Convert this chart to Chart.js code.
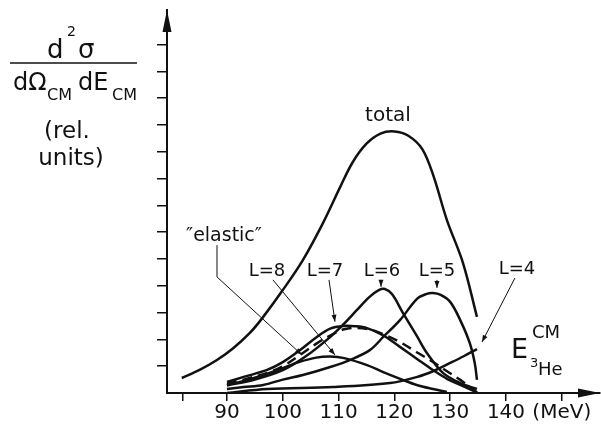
<!DOCTYPE html>
<html>
<head>
<meta charset="utf-8">
<script src="https://cdn.jsdelivr.net/npm/chart.js@4.4.0/dist/chart.umd.min.js"></script>
<style>
  html, body { margin: 0; padding: 0; background: #fff; }
  #wrap { width: 601px; height: 434px; }
</style>
</head>
<body>
<div id="wrap"><canvas id="grafico" width="601" height="434"></canvas></div>
<script>
// Energia E_CM (MeV) e secção eficaz (unid. rel.) de cada curva
const totalE = [81.9, 85, 88.2, 91, 94.1, 96.5, 100, 103.6, 107.2, 110.3, 112.5, 115, 117.5, 120, 122.5, 125, 127, 129.4, 132.3, 134.8];
const totalY = [0.56, 0.85, 1.23, 1.65, 2.24, 2.84, 3.84, 4.96, 6.34, 7.69, 8.60, 9.30, 9.68, 9.76, 9.60, 9.10, 8.10, 6.46, 4.85, 2.84];

const l8E = [90, 93, 97, 100, 103, 106, 108.5, 111, 115.1, 118, 121.5, 124, 126.9, 129.4];
const l8Y = [0.30, 0.45, 0.70, 0.93, 1.16, 1.32, 1.36, 1.30, 1.04, 0.78, 0.49, 0.30, 0.15, 0.04];

const l7E = [90, 93, 97.2, 100, 103.1, 106.1, 108.5, 110.8, 113, 115.1, 118, 121, 124, 126.9, 129.5, 131.8, 134.8];
const l7Y = [0.41, 0.60, 0.86, 1.15, 1.60, 2.09, 2.40, 2.50, 2.49, 2.42, 2.15, 1.72, 1.28, 0.86, 0.52, 0.30, 0.02];

const elasticE = [90, 93, 97.2, 100, 103.1, 106.1, 109, 111, 113.3, 116, 118.5, 121, 124, 126.9, 129.5, 131.8, 134.8];
const elasticY = [0.34, 0.50, 0.75, 1.00, 1.42, 1.85, 2.20, 2.38, 2.43, 2.35, 2.15, 1.90, 1.52, 1.16, 0.80, 0.49, 0.02];

const l6E = [90, 95, 100, 104, 108, 110.8, 113.3, 115.5, 117.2, 118.3, 119.6, 121.5, 124.1, 125.8, 128.7, 131.8, 134.8];
const l6Y = [0.28, 0.50, 0.85, 1.35, 2.00, 2.55, 3.10, 3.58, 3.84, 3.88, 3.68, 3.00, 2.10, 1.50, 0.75, 0.37, 0.15];

const l5E = [90, 93, 96.5, 100, 103.6, 108.5, 112, 115.6, 118, 121, 124.1, 125.8, 126.9, 128.3, 130, 131.8, 133.5, 134.4, 134.8];
const l5Y = [0.15, 0.22, 0.30, 0.50, 0.67, 0.97, 1.23, 1.60, 2.09, 2.72, 3.52, 3.70, 3.73, 3.66, 3.40, 2.72, 1.87, 1.12, 0.49];

const l4E = [90, 97.2, 109, 119.2, 124.1, 127, 130, 132.5, 134.8];
const l4Y = [0.00, 0.15, 0.22, 0.37, 0.60, 0.82, 1.12, 1.38, 1.64];

// marcas do eixo x e respectivos rótulos
const xTicks = [82, 90, 100, 110, 120, 130, 140, 150];
const xTickLabels = ['', '90', '100', '110', '120', '130', '140', '(MeV)'];
const yTicks = [1, 2, 3, 4, 5, 6, 7, 8, 9, 10, 11, 12, 13];

// rótulos das curvas (posição em unidades dos eixos)
const rotulos = [
  { texto: 'total', x: 118.85, y: 10.34, tam: 20 },
  { texto: '\u2033elastic\u2033', x: 89.46, y: 5.86, tam: 19 },
  { texto: 'L=8', x: 97.17, y: 4.55, tam: 18 },
  { texto: 'L=7', x: 107.56, y: 4.55, tam: 18 },
  { texto: 'L=6', x: 117.78, y: 4.55, tam: 18 },
  { texto: 'L=5', x: 127.63, y: 4.55, tam: 18 },
  { texto: 'L=4', x: 141.97, y: 4.63, tam: 18 }
];

// setas que ligam cada rótulo à sua curva
const setas = [
  [[88.21, 5.52], [88.21, 4.33], [103.44, 1.42]],
  [[98.24, 4.22], [109.35, 1.42]],
  [[108.28, 4.22], [109.35, 2.66]],
  [[117.6, 4.22], [117.6, 3.96]],
  [[127.63, 4.22], [127.63, 3.92]],
  [[141.6, 4.29], [135.7, 1.9]]
];

const FONTE = '"DejaVu Sans", sans-serif';
const COR = '#111';

function pontos(xs, ys) {
  return xs.map((x, i) => ({ x: x, y: ys[i] }));
}

function curva(xs, ys, tracejado) {
  return {
    data: pontos(xs, ys),
    showLine: true,
    borderColor: COR,
    borderWidth: 2.5,
    borderDash: tracejado ? [10, 6] : [],
    pointRadius: 0,
    tension: 0.35,
    fill: false
  };
}

function pontaSeta(ctx, x0, y0, x1, y1, comp, larg) {
  const ang = Math.atan2(y1 - y0, x1 - x0);
  ctx.beginPath();
  ctx.moveTo(x1, y1);
  ctx.lineTo(x1 - comp * Math.cos(ang) + larg * Math.sin(ang), y1 - comp * Math.sin(ang) - larg * Math.cos(ang));
  ctx.lineTo(x1 - comp * Math.cos(ang) - larg * Math.sin(ang), y1 - comp * Math.sin(ang) + larg * Math.cos(ang));
  ctx.closePath();
  ctx.fill();
}

function texto(ctx, t, x, y, tam, align) {
  ctx.font = tam + 'px ' + FONTE;
  ctx.textAlign = align || 'left';
  ctx.fillText(t, x, y);
}

const anotacoes = {
  id: 'anotacoes',
  afterDraw(chart) {
    const ctx = chart.ctx;
    const sx = chart.scales.x;
    const sy = chart.scales.y;
    const area = chart.chartArea;
    ctx.save();
    ctx.fillStyle = COR;
    ctx.strokeStyle = COR;

    // pontas de seta dos eixos
    pontaSeta(ctx, area.left, area.top + 30, area.left, area.top, 22, 4.5);
    pontaSeta(ctx, area.right - 30, area.bottom, area.right, area.bottom, 22, 4.5);

    // rótulos das curvas
    ctx.textBaseline = 'middle';
    rotulos.forEach(r => {
      texto(ctx, r.texto, sx.getPixelForValue(r.x), sy.getPixelForValue(r.y), r.tam, 'center');
    });

    // linhas de chamada
    ctx.lineWidth = 1;
    setas.forEach(s => {
      const p = s.map(q => [sx.getPixelForValue(q[0]), sy.getPixelForValue(q[1])]);
      ctx.beginPath();
      ctx.moveTo(p[0][0], p[0][1]);
      for (let i = 1; i < p.length; i++) ctx.lineTo(p[i][0], p[i][1]);
      ctx.stroke();
      const a = p[p.length - 2], b = p[p.length - 1];
      pontaSeta(ctx, a[0], a[1], b[0], b[1], 7, 2.5);
    });

    // título do eixo x: E_3He^CM
    ctx.textBaseline = 'alphabetic';
    texto(ctx, 'E', 511, 358, 27);
    texto(ctx, 'CM', 532, 338, 18);
    texto(ctx, '3', 530, 367, 13);
    texto(ctx, 'He', 538, 375, 18);

    // título do eixo y: d²σ / dΩ_CM dE_CM (rel. units)
    texto(ctx, 'd', 47, 58, 26);
    texto(ctx, '2', 67, 36, 14);
    texto(ctx, '\u03C3', 78, 58, 26);
    ctx.lineWidth = 1.5;
    ctx.beginPath();
    ctx.moveTo(10, 63);
    ctx.lineTo(137, 63);
    ctx.stroke();
    texto(ctx, 'd\u03A9', 13, 90, 24);
    texto(ctx, 'CM', 47, 100, 16);
    texto(ctx, 'dE', 78, 90, 24);
    texto(ctx, 'CM', 112, 100, 16);
    texto(ctx, '(rel.', 67, 138, 23, 'center');
    texto(ctx, 'units)', 71, 165, 23, 'center');

    ctx.restore();
  }
};

new Chart(document.getElementById('grafico'), {
  type: 'scatter',
  data: {
    datasets: [
      curva(totalE, totalY),
      curva(l8E, l8Y),
      curva(l7E, l7Y),
      curva(elasticE, elasticY, true),
      curva(l6E, l6Y),
      curva(l5E, l5Y),
      curva(l4E, l4Y)
    ]
  },
  options: {
    responsive: false,
    animation: false,
    events: [],
    layout: { padding: { left: 155, right: 1, top: 10, bottom: 1 } },
    plugins: { legend: { display: false }, tooltip: { enabled: false } },
    scales: {
      x: {
        type: 'linear',
        min: 79.25,
        max: 156.85,
        afterBuildTicks(scale) { scale.ticks = xTicks.map(v => ({ value: v })); },
        afterFit(scale) { scale.height = 40; },
        grid: { drawOnChartArea: false, drawTicks: true, tickLength: 8, color: COR, lineWidth: 1.5 },
        border: { display: true, color: COR, width: 2 },
        ticks: {
          autoSkip: false,
          maxRotation: 0,
          padding: 0,
          color: COR,
          font: { family: FONTE, size: 20 },
          callback: (v, i) => xTickLabels[i]
        }
      },
      y: {
        type: 'linear',
        min: 0,
        max: 14.29,
        afterBuildTicks(scale) { scale.ticks = yTicks.map(v => ({ value: v })); },
        afterFit(scale) { scale.width = 12; },
        grid: { drawOnChartArea: false, drawTicks: true, tickLength: 10, color: COR, lineWidth: 1.5 },
        border: { display: true, color: COR, width: 2 },
        ticks: { display: false }
      }
    }
  },
  plugins: [anotacoes]
});
</script>
</body>
</html>
